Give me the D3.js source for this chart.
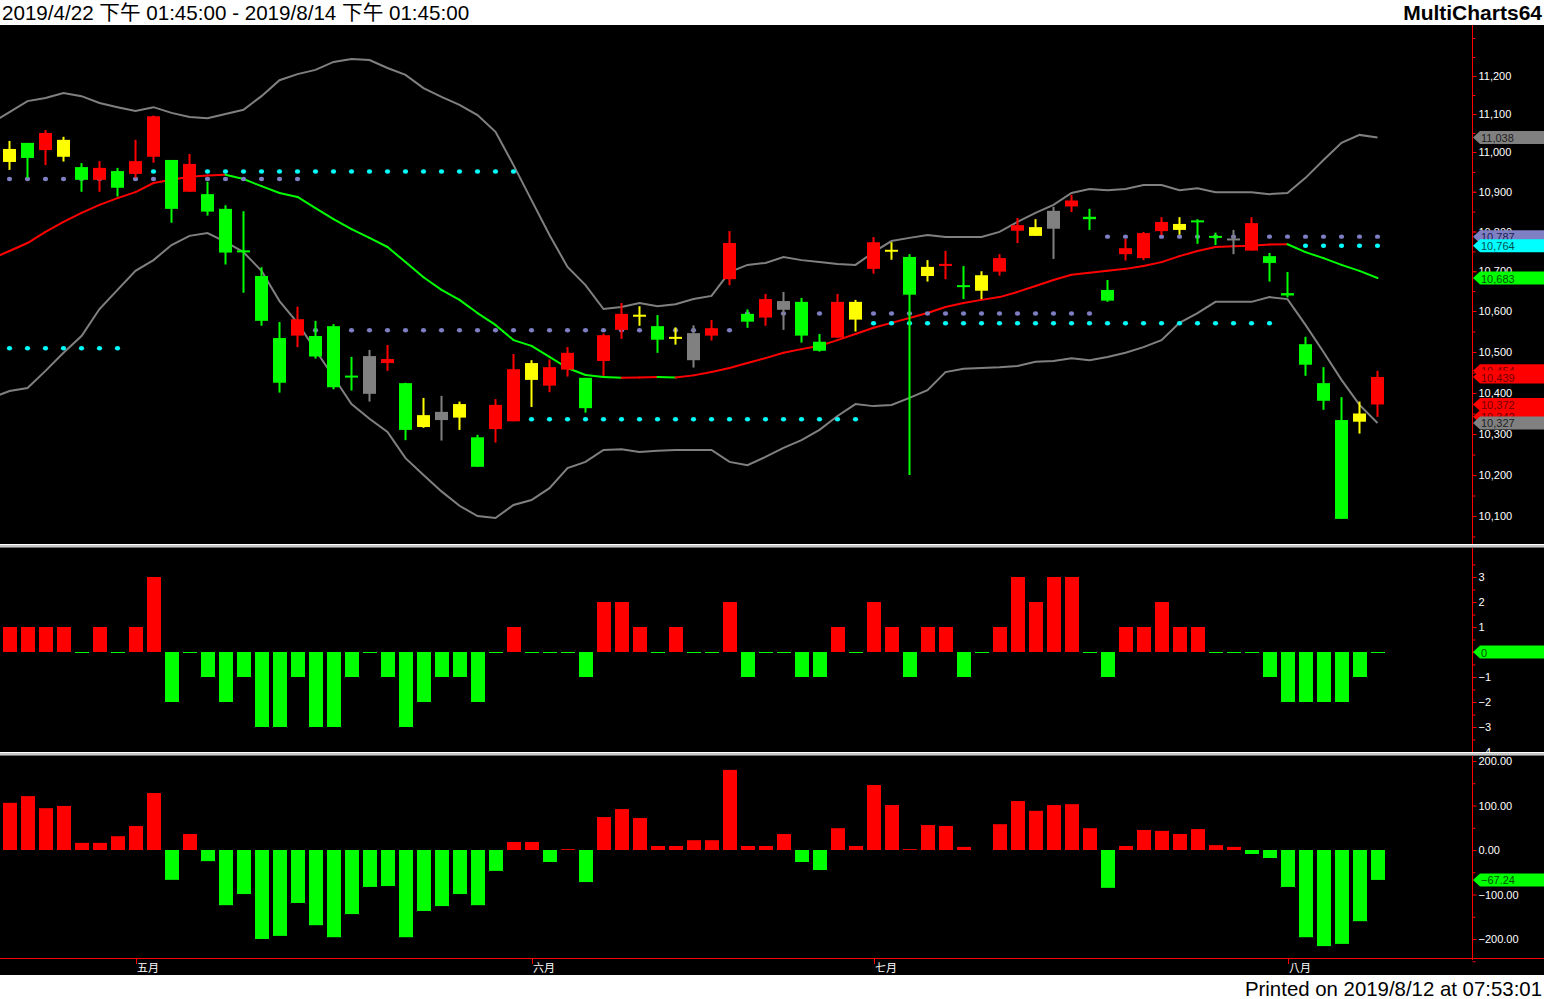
<!DOCTYPE html>
<html><head><meta charset="utf-8">
<script src="https://cdn.jsdelivr.net/npm/d3@7"></script>
<style>body{margin:0;background:#fff;overflow:hidden}svg{display:block}</style>
</head><body><svg id="c" width="1544" height="999"></svg>
<script>
// ---------------- DATA ----------------
const headerText = "2019/4/22 下午 01:45:00 - 2019/8/14 下午 01:45:00";
const brandText = "MultiCharts64";
const footerText = "Printed on 2019/8/12 at 07:53:01";
const monthLabels = ["五月","六月","七月","八月"];
const monthIndex = [7, 29, 48, 71];

// candle colour code: R red, G green, Y yellow, S gray
const candleColor = ["Y","G","R","Y","G","R","G","R","R","G", "R","G","G","G","G","G","R","G","G","G",
  "S","R","G","Y","S","Y","G","R","R","Y", "R","R","G","R","R","Y","G","Y","S","R",
  "R","G","R","S","G","G","R","Y","R","Y", "G","Y","R","G","Y","R","R","Y","S","R",
  "G","G","R","R","R","Y","G","G","S","R", "G","G","G","G","G","Y","R"];
const open = [10975,11024,11005,10988,10962,10930,10952,10945,10988,10980, 10900,10894,10857,10752,10688,10534,10540,10539,10563,10442,
  10490,10473,10424,10317,10354,10340,10292,10312,10331,10432, 10418,10457,10437,10478,10554,10587,10563,10533,10546,10540,
  10680,10593,10584,10625,10623,10525,10535,10579,10706,10750, 10736,10688,10714,10664,10651,10699,10802,10789,10852,10863,
  10837,10653,10743,10733,10801,10804,10827,10788,10781,10752, 10738,10645,10519,10424,10334,10330,10372];
const high = [11029,11024,11058,11040,10972,10977,10960,11032,11096,10980, 10995,10925,10866,10851,10710,10573,10611,10576,10568,10488,
  10505,10517,10425,10388,10393,10379,10298,10385,10495,10480, 10482,10512,10437,10545,10620,10612,10590,10560,10565,10578,
  10801,10604,10643,10648,10633,10544,10643,10628,10786,10773, 10743,10728,10751,10713,10700,10743,10834,10831,10862,10892,
  10857,10678,10781,10799,10836,10836,10831,10797,10804,10836, 10746,10698,10537,10463,10390,10379,10454];
const low = [10955,10935,10967,10976,10900,10900,10888,10935,10973,10822, 10900,10840,10717,10646,10564,10401,10512,10484,10409,10406,
  10379,10454,10285,10315,10284,10310,10220,10279,10331,10366, 10402,10440,10352,10442,10532,10564,10498,10518,10462,10528,
  10665,10559,10564,10554,10523,10501,10535,10550,10694,10729, 10200,10674,10680,10630,10630,10689,10771,10789,10731,10849,
  10804,10623,10727,10728,10791,10792,10769,10766,10743,10752, 10674,10634,10442,10359,10093,10301,10342];
const close = [11008,10985,11050,11032,10930,10960,10910,10977,11094,10857, 10970,10850,10747,10748,10576,10425,10580,10489,10414,10438,
  10398,10483,10310,10346,10334,10373,10220,10371,10458,10473, 10463,10498,10363,10541,10593,10590,10530,10536,10480,10558,
  10771,10574,10630,10603,10540,10503,10623,10623,10773,10753, 10641,10711,10718,10661,10690,10733,10816,10811,10807,10878,
  10831,10626,10758,10796,10824,10819,10824,10785,10779,10821, 10721,10639,10469,10381,10093,10350,10439];

// Bollinger bands (first value belongs to the bar before the visible range, index -1)
const bandFirstIndex = -1;
const bandUpper = [11076, 11105,11134,11142,11155,11147,11129,11118,11108,11118,11103, 11092,11089,11100,11111,11147,11189,11205,11216,11237,11245,
  11242,11221,11203,11168,11145,11124,11097,11053,10967,10879, 10791,10711,10665,10605,10610,10620,10612,10617,10630,10638,
  10698,10716,10721,10736,10728,10723,10718,10716,10748,10776, 10784,10791,10786,10786,10786,10799,10824,10847,10867,10897,
  10907,10904,10907,10917,10917,10904,10909,10899,10899,10899, 10894,10897,10935,10980,11024,11045,11038];
const bandMid = [10731, 10751,10771,10799,10824,10847,10867,10884,10899,10922,10930, 10938,10941,10943,10932,10914,10897,10887,10859,10831,10806,
  10784,10761,10723,10685,10653,10628,10595,10566,10529,10515, 10488,10461,10444,10439,10437,10438,10439,10438,10443,10451,
  10461,10473,10485,10498,10507,10515,10529,10544,10559,10571, 10583,10595,10610,10620,10628,10635,10648,10663,10678,10691,
  10696,10701,10706,10713,10723,10738,10751,10761,10763,10764, 10767,10768,10748,10733,10716,10701,10683];
const bandLower = [10388, 10405,10412,10454,10498,10539,10605,10653,10701,10728,10766, 10789,10796,10774,10748,10701,10625,10571,10505,10439,10373,
  10337,10305,10241,10200,10160,10125,10100,10095,10127,10139, 10168,10217,10232,10261,10263,10256,10259,10261,10261,10261,
  10232,10224,10244,10266,10285,10310,10344,10373,10368,10371, 10388,10407,10451,10459,10461,10463,10466,10476,10478,10485,
  10480,10488,10498,10512,10529,10571,10595,10623,10623,10623, 10635,10630,10566,10500,10432,10371,10327];

// dotted level lines
const lavStart = [0, 17, 41, 61];
const lavEnd   = [16, 40, 60, 76];
const lavPrice = [10932, 10553, 10594, 10787];
const cyanStart = [0, 7, 29, 48, 72];
const cyanEnd   = [6, 28, 47, 70, 76];
const cyanPrice = [10509, 10951, 10336, 10570, 10764];

// indicator panels
const osc = [1,1,1,1,0,1,0,1,3,-2, 0,-1,-2,-1,-3,-3,-1,-3,-3,-1, 0,-1,-3,-2,-1,-1,-2,0,1,0,
  0,0,-1,2,2,1,0,1,0,0, 2,-1,0,0,-1,-1,1,0,2,1, -1,1,1,-1,0,1,3,2,3,3,
  0,-1,1,1,2,1,1,0,0,0, -1,-2,-2,-2,-2,-1,0];
const momentum = [106,121,94,99,16,16,31,54,128,-67, 36,-25,-124,-99,-200,-193,-119,-169,-196,-144,
  -83,-81,-196,-137,-126,-99,-124,-47,18,18, -27,2,-72,74,92,72,9,9,22,22,
  180,9,9,36,-27,-45,49,9,146,101, 2,56,54,7,0,58,110,88,101,103,
  49,-85,9,45,43,36,47,11,7,-9, -18,-83,-196,-216,-211,-160,-67.24];

// axis tick values
const priceTicks = [10100,10200,10300,10400,10500,10600,10700,10800,10900,11000,11100,11200];
const priceMinor = d3.range(10050, 11301, 50);
const oscTicks = [-4,-3,-2,-1,0,1,2,3];
const oscMinor = d3.range(-3.5, 3.6, 1);
const momTicks = [-200,-100,0,100,200];
const momMinor = [-250,-150,-50,50,150];

// ---------------- DRAW ----------------
const W = 1544, H = 999, AX = 1472;
const svg = d3.select("#c");
const defs = svg.append("defs");
function clip(id, y0, y1){ defs.append("clipPath").attr("id",id).append("rect").attr("x",0).attr("y",y0).attr("width",AX).attr("height",y1-y0); }
clip("cMain", 26, 544); clip("cOsc", 548, 752); clip("cMom", 756, 958);

svg.append("rect").attr("width",W).attr("height",H).attr("fill","#fff");
svg.append("rect").attr("x",0).attr("y",25).attr("width",W).attr("height",950).attr("fill","#000");

const N = close.length;
const x = d3.scaleLinear().domain([0, 76]).range([9.5, 1377.5]);
const yP = d3.scaleLinear().domain([10100, 10600, 11000, 11200]).range([516, 311, 152, 76]);
const yO = d3.scaleLinear().domain([-3, 3]).range([727, 577]);
const yM = d3.scaleLinear().domain([-200, 200]).range([939, 761]);
const col = {R:"#ff0000", G:"#00ff00", Y:"#ffff00", S:"#808080"};
const idx = d3.range(N);
const bIdx = d3.range(bandUpper.length);
const bx = k => x(k + bandFirstIndex);

// main panel
const gm = svg.append("g").attr("clip-path","url(#cMain)");
gm.append("path").datum(bIdx).attr("d", d3.line().x(bx).y(k => yP(bandUpper[k])))
  .attr("fill","none").attr("stroke","#808080").attr("stroke-width",2);
gm.append("path").datum(bIdx).attr("d", d3.line().x(bx).y(k => yP(bandLower[k])))
  .attr("fill","none").attr("stroke","#808080").attr("stroke-width",2);
gm.selectAll("line.mid").data(bIdx.slice(1)).join("line").attr("class","mid")
  .attr("x1", k => bx(k-1)).attr("x2", k => bx(k))
  .attr("y1", k => yP(bandMid[k-1])).attr("y2", k => yP(bandMid[k]))
  .attr("stroke", k => bandMid[k] >= bandMid[k-1] ? "#ff0000" : "#00ff00")
  .attr("stroke-width", 2).attr("stroke-linecap","round");

function dots(starts, ends, prices, color){
  starts.forEach((s, k) => {
    gm.selectAll(null).data(d3.range(s, ends[k]+1)).join("ellipse")
      .attr("cx", i => x(i)).attr("cy", yP(prices[k]))
      .attr("rx", 2.6).attr("ry", 2.2).attr("fill", color);
  });
}
dots(lavStart, lavEnd, lavPrice, "#7f7fc4");
dots(cyanStart, cyanEnd, cyanPrice, "#00ffff");

const cg = gm.selectAll("g.cd").data(idx).join("g").attr("class","cd");
cg.append("rect").attr("x", i => x(i)-1).attr("width", 2)
  .attr("y", i => yP(high[i])).attr("height", i => Math.max(1, yP(low[i]) - yP(high[i])))
  .attr("fill", i => col[candleColor[i]]);
cg.append("rect").attr("x", i => x(i)-6.5).attr("width", 13)
  .attr("y", i => { const t = yP(Math.max(open[i],close[i])), b = yP(Math.min(open[i],close[i])); return b - t < 2 ? (t+b)/2 - 1 : t; })
  .attr("height", i => Math.max(2, yP(Math.min(open[i],close[i])) - yP(Math.max(open[i],close[i]))))
  .attr("fill", i => col[candleColor[i]]);

// oscillator panel
const go = svg.append("g").attr("clip-path","url(#cOsc)");
go.selectAll("rect").data(idx.filter(i => osc[i] !== 0)).join("rect")
  .attr("x", i => x(i)-6.5).attr("width", 14)
  .attr("y", i => Math.min(yO(0), yO(osc[i]))).attr("height", i => Math.abs(yO(osc[i]) - yO(0)))
  .attr("fill", i => osc[i] > 0 ? "#ff0000" : "#00ff00");
go.selectAll("line").data(idx.filter(i => osc[i] === 0)).join("line")
  .attr("x1", i => x(i)-6.5).attr("x2", i => x(i)+7.5).attr("y1", yO(0)+0.5).attr("y2", yO(0)+0.5)
  .attr("stroke","#00ff00").attr("stroke-width",1);

// momentum panel
const gb = svg.append("g").attr("clip-path","url(#cMom)");
gb.selectAll("rect").data(idx).join("rect")
  .attr("x", i => x(i)-6.5).attr("width", 14)
  .attr("y", i => Math.min(yM(0), yM(momentum[i]))).attr("height", i => Math.abs(yM(momentum[i]) - yM(0)))
  .attr("fill", i => momentum[i] >= 0 ? "#ff0000" : "#00ff00");

// right axis
svg.append("line").attr("x1", AX+0.5).attr("x2", AX+0.5).attr("y1", 25).attr("y2", 960)
  .attr("stroke","#ff0000").attr("stroke-width",1);
function axis(scale, majors, minors, fmt){
  const gA = svg.append("g").attr("transform", `translate(${AX+0.5},0)`)
    .call(d3.axisRight(scale).tickValues(majors).tickSize(4).tickPadding(2).tickFormat(fmt));
  gA.select(".domain").remove();
  gA.selectAll("line").attr("stroke","#ff0000");
  gA.selectAll("text").attr("fill","#ffffff").style("font-family","'Liberation Sans', Arial, sans-serif").style("font-size","11px");
  const gB = svg.append("g").attr("transform", `translate(${AX+0.5},0)`)
    .call(d3.axisRight(scale).tickValues(minors).tickSize(3).tickFormat(""));
  gB.select(".domain").remove();
  gB.selectAll("line").attr("stroke","#ff0000");
}
axis(yP, priceTicks, priceMinor, d3.format(","));
axis(yO, oscTicks, oscMinor, d3.format("d"));
axis(yM, momTicks, momMinor, d3.format(".2f"));

// value flags
function flag(y, fill, tcol, label){
  const g = svg.append("g");
  g.append("path").attr("d", `M${AX+1},${y} L${AX+8},${y-6.5} L${W},${y-6.5} L${W},${y+6.5} L${AX+8},${y+6.5} Z`).attr("fill", fill);
  g.append("text").attr("x", AX+9).attr("y", y+4.5).text(label).attr("fill", tcol)
    .style("font-family","'Liberation Sans', Arial, sans-serif").style("font-size","11px");
}
const fmtP = d3.format(",");
const L = bandUpper.length - 1;
flag(yP(bandUpper[L]), "#808080", "#202020", fmtP(bandUpper[L]));
flag(yP(lavPrice[3]), "#7f7fc4", "#202050", fmtP(lavPrice[3]));
flag(yP(cyanPrice[4]), "#00ffff", "#005050", fmtP(cyanPrice[4]));
flag(yP(bandMid[L]), "#00ff00", "#005000", fmtP(bandMid[L]));
flag(yP(high[N-1]), "#ff0000", "#700000", fmtP(high[N-1]));
flag(yP(close[N-1]), "#ff0000", "#700000", fmtP(close[N-1]));
flag(yP(open[N-1]), "#ff0000", "#700000", fmtP(open[N-1]));
flag(yP(low[N-1]), "#ff0000", "#700000", fmtP(low[N-1]));
flag(yP(bandLower[L]), "#808080", "#202020", fmtP(bandLower[L]));
flag(yO(osc[N-1]), "#00ff00", "#005000", d3.format("d")(osc[N-1]));
flag(yM(momentum[N-1]), "#00ff00", "#005000", d3.format(".2f")(momentum[N-1]));

// panel separators
[544, 752].forEach(y => {
  svg.append("rect").attr("x",0).attr("y",y).attr("width",W).attr("height",1).attr("fill","#ffffff");
  svg.append("rect").attr("x",0).attr("y",y+1).attr("width",W).attr("height",2).attr("fill","#c8c8c8");
  svg.append("rect").attr("x",0).attr("y",y+3).attr("width",W).attr("height",1).attr("fill","#707070");
});
// bottom time axis
svg.append("line").attr("x1",0).attr("x2",W).attr("y1",958.5).attr("y2",958.5).attr("stroke","#ff0000");
monthIndex.forEach((mi, k) => {
  const mx = Math.round(x(mi));
  svg.append("line").attr("x1", mx+0.5).attr("x2", mx+0.5).attr("y1", 958).attr("y2", 964).attr("stroke","#ff0000");
  svg.append("text").attr("x", mx+1).attr("y", 972).text(monthLabels[k]).attr("fill","#fff")
    .style("font-family","'Noto Sans CJK TC','Noto Sans CJK SC',sans-serif").style("font-size","11px");
});

// header/footer
svg.append("text").attr("x", 2).attr("y", 20).text(headerText).attr("fill","#000")
  .style("font-family","'Liberation Sans', Arial, 'Noto Sans CJK TC', sans-serif").style("font-size","20.6px");
svg.append("text").attr("x", 1542).attr("y", 20).attr("text-anchor","end").text(brandText).attr("fill","#000")
  .style("font-family","'Liberation Sans', Arial, sans-serif").style("font-size","21px").style("font-weight","bold");
svg.append("text").attr("x", 1542).attr("y", 996).attr("text-anchor","end").text(footerText).attr("fill","#000")
  .style("font-family","'Liberation Sans', Arial, sans-serif").style("font-size","20.4px");
</script></body></html>
